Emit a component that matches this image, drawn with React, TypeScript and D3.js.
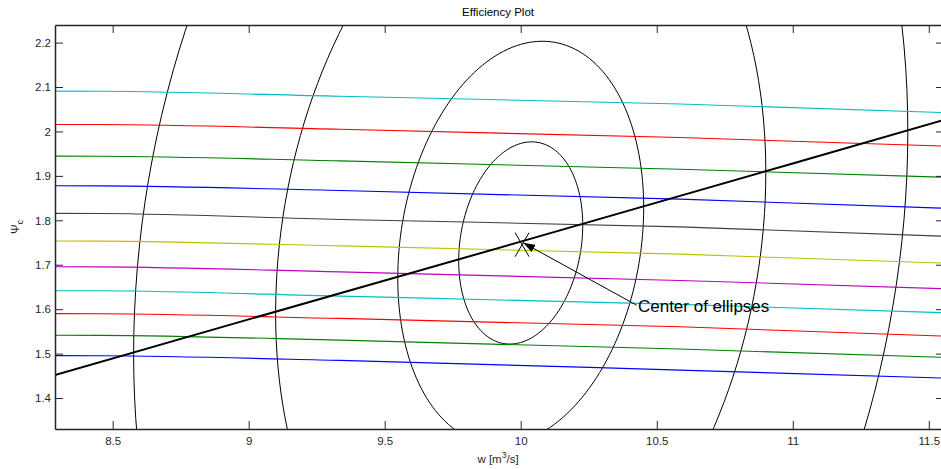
import React, { useEffect, useRef } from "react";
import * as d3 from "d3";

const WIDTH = 941;
const HEIGHT = 469;
const PLOT = { LEFT: 55, TOP: 25, RIGHT: 944, BOTTOM: 429 };
const FONT = "Arial, 'Liberation Sans', sans-serif";

// axis ranges and ticks
const W_DOMAIN = [8.288, 11.556];
const PSI_DOMAIN = [1.3303, 2.2396];
const W_TICKS = [8.5, 9, 9.5, 10, 10.5, 11, 11.5];
const PSI_TICKS = [1.4, 1.5, 1.6, 1.7, 1.8, 1.9, 2, 2.1, 2.2];

// constant-speed lines, sampled at these w values
const W_SAMPLES = [8.288, 8.453, 9.335, 10.585, 11.556];
const LINE_COLORS = [
  "#00bfbf", "#ff0000", "#008000", "#0000ff", "#404040", "#bfbf00",
  "#bf00bf", "#00bfbf", "#ff0000", "#008000", "#0000ff",
];
const PSI_LINES = [
  [2.0908, 2.0905, 2.0792, 2.0619, 2.0425],
  [2.0158, 2.0156, 2.005, 1.9863, 1.967],
  [1.9445, 1.9443, 1.9337, 1.915, 1.897],
  [1.8778, 1.8775, 1.8671, 1.8476, 1.8272],
  [1.8157, 1.8154, 1.8019, 1.7852, 1.7642],
  [1.7534, 1.7531, 1.7425, 1.7239, 1.7036],
  [1.6956, 1.6953, 1.684, 1.6647, 1.646],
  [1.6416, 1.6413, 1.6294, 1.6107, 1.592],
  [1.5899, 1.5896, 1.5792, 1.5603, 1.5393],
  [1.5413, 1.541, 1.5304, 1.5102, 1.4915],
  [1.4954, 1.4951, 1.4847, 1.4629, 1.4448],
];

// optimum ridge line (thick black)
const RIDGE = [
  [8.288, 1.452],
  [9.0, 1.577],
  [10.0, 1.752],
  [11.0, 1.928],
  [11.556, 2.026],
];

// efficiency contours: half widths in w and psi around the centre
const ELLIPSE_CENTER = [10.0, 1.749];
const ELLIPSE_W_HALF = [0.228, 0.452, 0.901, 1.423];
const ELLIPSE_PSI_HALF = [0.224, 0.447, 0.877, 1.392];
const RIDGE_SLOPE = 0.176;

const CENTER_MARK = [10.005, 1.7452];
const NOTE_TEXT = "Center of ellipses";
const NOTE_POS = [10.431, 1.5934];
const NOTE_TAIL = [10.426, 1.609];

const App = () => {
  const svgRef = useRef<SVGSVGElement>(null);

  useEffect(() => {
    const svg = d3.select(svgRef.current);
    svg.selectAll("*").remove();

    const x = d3.scaleLinear().domain(W_DOMAIN).range([PLOT.LEFT, PLOT.RIGHT]);
    const y = d3.scaleLinear().domain(PSI_DOMAIN).range([PLOT.BOTTOM, PLOT.TOP]);

    svg
      .append("defs")
      .append("clipPath")
      .attr("id", "plot-clip")
      .append("rect")
      .attr("x", PLOT.LEFT)
      .attr("y", PLOT.TOP)
      .attr("width", PLOT.RIGHT - PLOT.LEFT)
      .attr("height", PLOT.BOTTOM - PLOT.TOP);

    svg
      .append("marker")
      .attr("id", "arrow")
      .attr("viewBox", "0 0 12 8")
      .attr("refX", 12)
      .attr("refY", 4)
      .attr("markerWidth", 12)
      .attr("markerHeight", 8)
      .attr("markerUnits", "userSpaceOnUse")
      .attr("orient", "auto")
      .append("path")
      .attr("d", "M0,0 L12,4 L0,8 Z")
      .attr("fill", "#000");

    const plot = svg.append("g").attr("clip-path", "url(#plot-clip)");
    const line = d3
      .line<number[]>()
      .x((d) => x(d[0]))
      .y((d) => y(d[1]));

    // contours
    const steps = d3.range(0, 361, 2).map((a) => (a * Math.PI) / 180);
    ELLIPSE_W_HALF.forEach((wh, i) => {
      const ph = ELLIPSE_PSI_HALF[i];
      const pts = steps.map((t) => [
        ELLIPSE_CENTER[0] + wh * Math.cos(t),
        ELLIPSE_CENTER[1] + RIDGE_SLOPE * wh * Math.cos(t) + ph * Math.sin(t),
      ]);
      plot
        .append("path")
        .attr("d", line(pts))
        .attr("fill", "none")
        .attr("stroke", "#000")
        .attr("stroke-width", 1);
    });

    // speed lines
    const smooth = d3
      .line<number[]>()
      .x((d) => x(d[0]))
      .y((d) => y(d[1]))
      .curve(d3.curveMonotoneX);
    PSI_LINES.forEach((vals, i) => {
      plot
        .append("path")
        .attr("d", smooth(vals.map((v, j) => [W_SAMPLES[j], v])))
        .attr("fill", "none")
        .attr("stroke", LINE_COLORS[i])
        .attr("stroke-width", 1.1);
    });

    plot
      .append("path")
      .attr("d", line(RIDGE))
      .attr("fill", "none")
      .attr("stroke", "#000")
      .attr("stroke-width", 2);

    // centre marker
    const cx = x(CENTER_MARK[0]);
    const cy = y(CENTER_MARK[1]);
    plot
      .append("path")
      .attr("d", `M${cx - 7},${cy - 12}L${cx + 7},${cy + 12}M${cx + 7},${cy - 12}L${cx - 7},${cy + 12}`)
      .attr("stroke", "#000")
      .attr("stroke-width", 1);

    // annotation
    svg
      .append("line")
      .attr("x1", x(NOTE_TAIL[0]))
      .attr("y1", y(NOTE_TAIL[1]))
      .attr("x2", cx + 1)
      .attr("y2", cy - 2)
      .attr("stroke", "#000")
      .attr("stroke-width", 1)
      .attr("marker-end", "url(#arrow)");
    svg
      .append("text")
      .attr("x", x(NOTE_POS[0]))
      .attr("y", y(NOTE_POS[1]))
      .attr("font-family", FONT)
      .attr("font-size", 17)
      .attr("fill", "#000")
      .text(NOTE_TEXT);

    // axes
    const styleAxis = (g) => {
      g.select(".domain").attr("stroke", "#262626").attr("stroke-width", 1.5);
      g.selectAll(".tick line").attr("stroke", "#262626").attr("stroke-width", 1);
      g.selectAll(".tick text")
        .attr("fill", "#262626")
        .attr("font-family", FONT)
        .attr("font-size", 11.5);
    };
    svg
      .append("g")
      .attr("transform", `translate(0,${PLOT.BOTTOM})`)
      .call(d3.axisBottom(x).tickValues(W_TICKS).tickSize(-8).tickSizeOuter(0).tickPadding(8).tickFormat(d3.format("")))
      .call(styleAxis);
    svg
      .append("g")
      .attr("transform", `translate(0,${PLOT.TOP})`)
      .call(d3.axisTop(x).tickValues(W_TICKS).tickSize(-8).tickSizeOuter(0).tickFormat(() => ""))
      .call(styleAxis);
    svg
      .append("g")
      .attr("transform", `translate(${PLOT.LEFT},0)`)
      .call(d3.axisLeft(y).tickValues(PSI_TICKS).tickSize(-8).tickSizeOuter(0).tickPadding(4).tickFormat(d3.format("")))
      .call(styleAxis);
    svg
      .append("g")
      .attr("transform", `translate(${PLOT.RIGHT},0)`)
      .call(d3.axisRight(y).tickValues(PSI_TICKS).tickSize(-8).tickSizeOuter(0).tickFormat(() => ""))
      .call(styleAxis);

    // titles
    svg
      .append("text")
      .attr("x", 498)
      .attr("y", 16)
      .attr("text-anchor", "middle")
      .attr("font-family", FONT)
      .attr("font-size", 11.5)
      .attr("fill", "#000")
      .text("Efficiency Plot");

    const xl = svg
      .append("text")
      .attr("x", 498)
      .attr("y", 463)
      .attr("text-anchor", "middle")
      .attr("font-family", FONT)
      .attr("font-size", 11.5)
      .attr("fill", "#262626");
    xl.append("tspan").text("w [m");
    xl.append("tspan").attr("dy", -5).attr("font-size", 8.5).text("3");
    xl.append("tspan").attr("dy", 5).text("/s]");

    const yl = svg
      .append("text")
      .attr("transform", `translate(19,${(PLOT.TOP + PLOT.BOTTOM) / 2}) rotate(-90)`)
      .attr("text-anchor", "middle")
      .attr("font-family", FONT)
      .attr("font-size", 11.5)
      .attr("fill", "#262626");
    yl.append("tspan").text("\u03a8");
    yl.append("tspan").attr("dy", 4).attr("font-size", 8.5).text("c");
  }, []);

  return (
    <svg
      ref={svgRef}
      width={WIDTH}
      height={HEIGHT}
      style={{ position: "absolute", left: 0, top: 0, background: "#fff" }}
    ></svg>
  );
};

export default App;
